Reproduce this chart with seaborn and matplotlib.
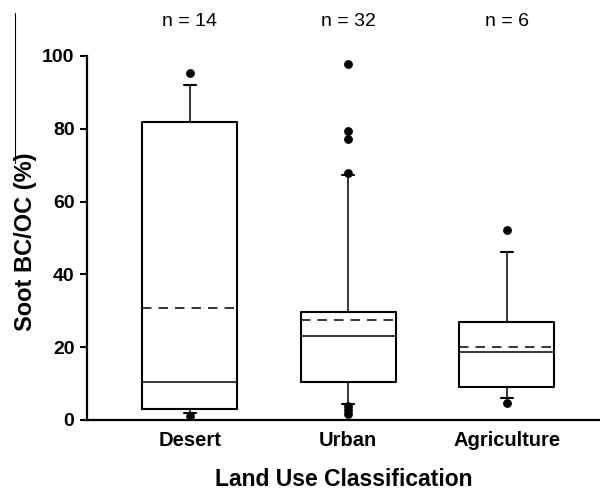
import matplotlib
matplotlib.use("Agg")
import matplotlib.pyplot as plt
from matplotlib.lines import Line2D
import seaborn as sns
import pandas as pd

# ---- data ----
categories = ["Desert", "Urban", "Agriculture"]
n_counts = [14, 32, 6]
p10 = [2.0, 4.4, 6.0]
q1 = [2.9, 10.4, 9.2]
median = [10.4, 23.1, 18.7]
mean = [30.9, 27.4, 20.0]
q3 = [81.9, 29.8, 27.0]
p90 = [92.0, 67.4, 46.1]
outliers_desert = [95.3, 1.0]
outliers_urban = [97.8, 79.5, 77.2, 67.9, 3.9, 2.7, 1.6]
outliers_agriculture = [52.2, 4.8]
y_ticks = [0, 20, 40, 60, 80, 100]

sns.set_theme(style="ticks")
plt.rcParams["font.family"] = ["Liberation Sans", "DejaVu Sans"]
plt.rcParams["text.color"] = "black"
plt.rcParams["axes.labelcolor"] = "black"
plt.rcParams["xtick.color"] = "black"
plt.rcParams["ytick.color"] = "black"

fig = plt.figure(figsize=(6.0, 4.93), dpi=100)
ax = fig.add_axes([87 / 600, 1 - 420 / 493, 1 - 87 / 600, (420 - 56) / 493])

outliers = [outliers_desert, outliers_urban, outliers_agriculture]
stats = []
for i, c in enumerate(categories):
    stats.append(dict(label=c, whislo=p10[i], q1=q1[i], med=median[i],
                      q3=q3[i], whishi=p90[i], mean=mean[i], fliers=[]))

ax.bxp(stats, positions=[0, 1, 2], widths=0.6, showmeans=True, meanline=True,
       showfliers=False, patch_artist=False,
       boxprops=dict(color="black", linewidth=1.5),
       medianprops=dict(color="black", linewidth=1.1),
       meanprops=dict(color="black", linewidth=1.1, linestyle=(0, (6.2, 4.6))),
       whiskerprops=dict(color="black", linewidth=1.1),
       capprops=dict(color="black", linewidth=1.5),
       capwidths=0.075)

flier_df = pd.DataFrame({
    "pos": [i for i, o in enumerate(outliers) for _ in o],
    "value": [v for o in outliers for v in o],
})
sns.scatterplot(data=flier_df, x="pos", y="value", ax=ax, color="black",
                s=40, edgecolor="black", linewidth=0, clip_on=False, zorder=5)

ax.set_xlim(-0.65, 2.59)
ax.set_ylim(0, 100)
ax.set_yticks(y_ticks)
ax.set_yticklabels([str(t) for t in y_ticks], fontsize=14, fontweight="bold")
ax.set_xticks([0, 1, 2])
ax.set_xticklabels(categories, fontsize=14.5, fontweight="bold")
ax.tick_params(axis="y", direction="out", length=5, width=1.5, pad=4)
ax.tick_params(axis="x", length=0, pad=8)

for s in ["top", "right"]:
    ax.spines[s].set_visible(False)
for s in ["left", "bottom"]:
    ax.spines[s].set_linewidth(1.6)
    ax.spines[s].set_color("black")

ax.set_ylabel("Soot BC/OC (%)", fontsize=17, fontweight="bold")
ax.yaxis.set_label_coords(-0.097, 0.49)
ax.set_xlabel("Land Use Classification", fontsize=16.5, fontweight="bold", labelpad=13)

for i, n in enumerate(n_counts):
    ax.text(i, 1.0 + 34 / 364, f"n = {n}", transform=ax.get_xaxis_transform(),
            ha="center", va="center", fontsize=14)

fig.add_artist(Line2D([15 / 600, 15 / 600], [1 - 13 / 493, 1 - 163 / 493],
                      color="black", linewidth=0.8))

fig.savefig("out.png", dpi=100)
